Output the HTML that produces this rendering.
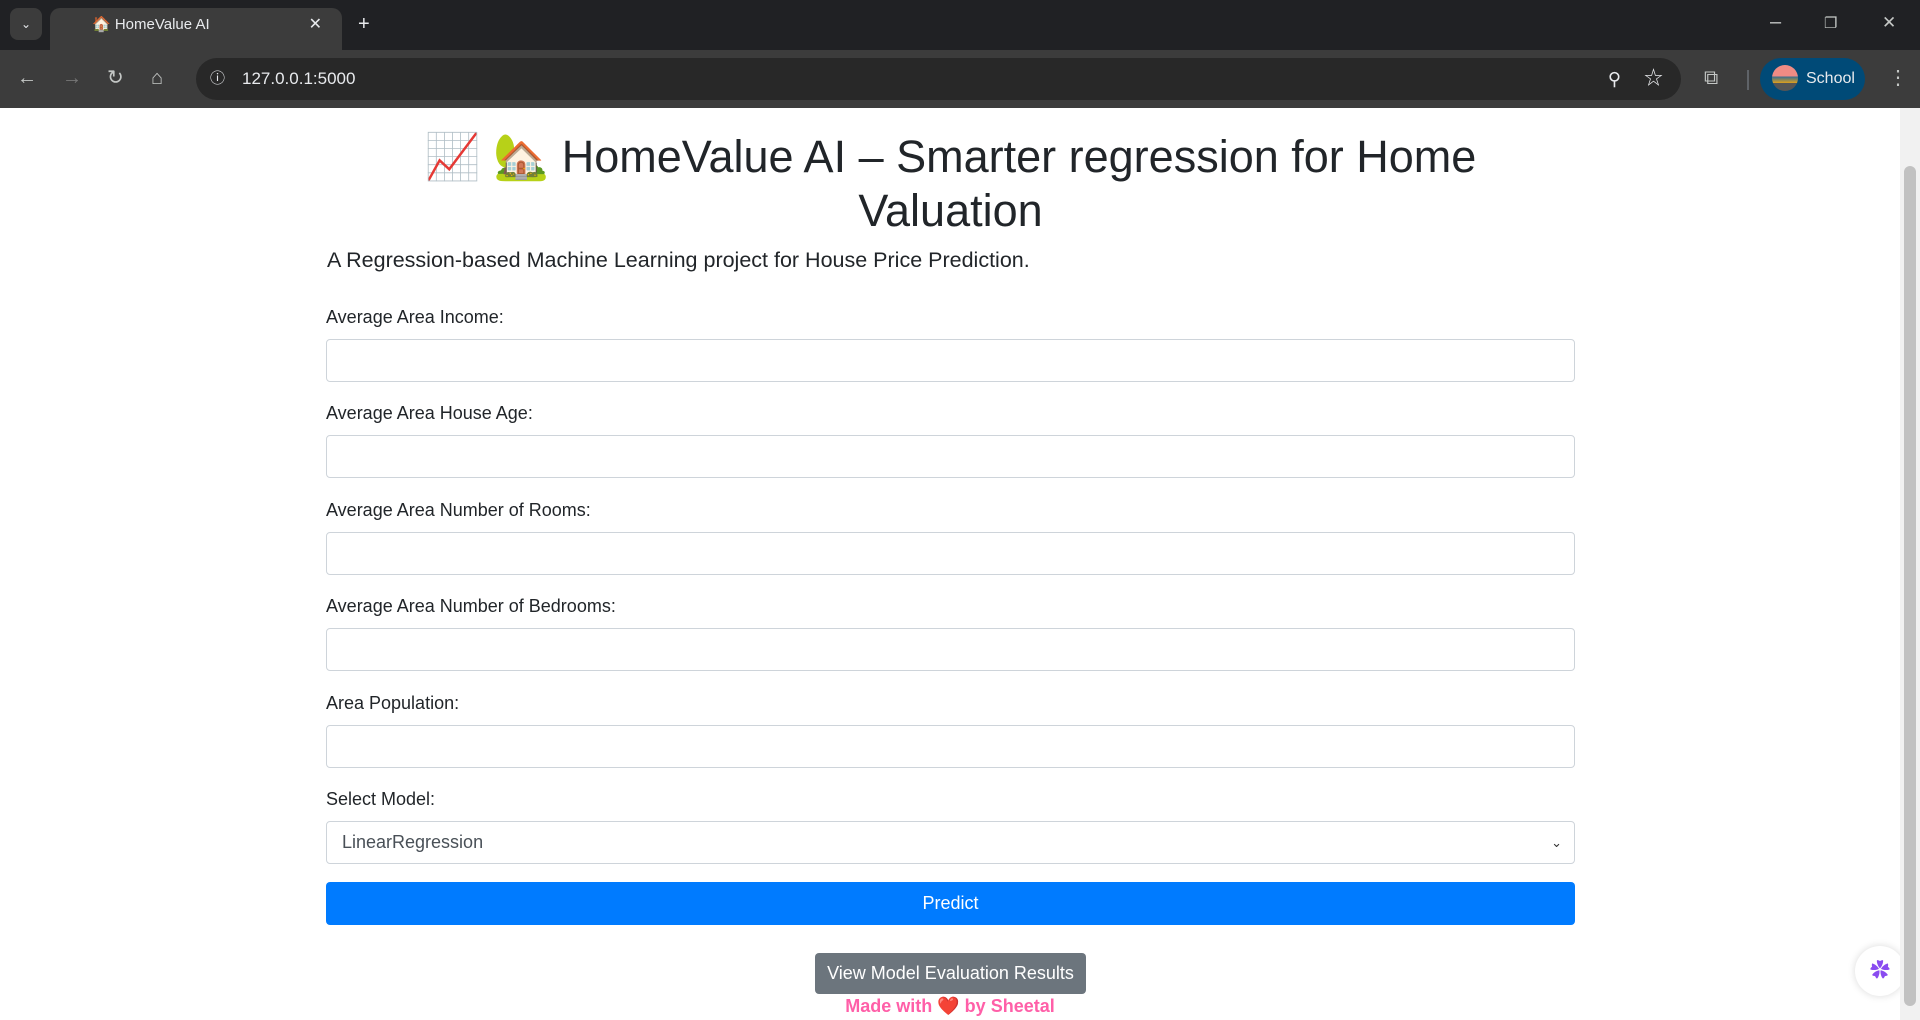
<!DOCTYPE html>
<html><head><meta charset="utf-8">
<style>
*{box-sizing:border-box;margin:0;padding:0}
body{width:1920px;height:1020px;overflow:hidden;background:#fff;font-family:"Liberation Sans","Noto Sans CJK SC",sans-serif;position:relative}
.abs{position:absolute}
#tabbar{left:0;top:0;width:1920px;height:50px;background:#202124}
#tab{left:50px;top:8px;width:292px;height:42px;background:#3c3c3c;border-radius:10px 10px 0 0;color:#e8eaed;font-size:15px;line-height:34px;padding-left:42px}
#toolbar{left:0;top:50px;width:1920px;height:58px;background:#3c3c3c}
#omni{left:196px;top:58px;width:1485px;height:42px;background:#282828;border-radius:21px;color:#e8eaed;font-size:17px;line-height:42px;padding-left:46px}
#school{left:1760px;top:58px;width:105px;height:42px;background:#004a77;border-radius:21px;color:#e8eaed;font-size:16px;line-height:42px;padding-left:46px}
.ic{color:#c4c7c5;font-size:20px;line-height:20px}
#page{left:0;top:108px;width:1900px;height:912px}
#scroll{left:1900px;top:108px;width:20px;height:912px;background:#f1f1f1}
h1{position:absolute;left:326px;width:1249px;top:22px;text-align:center;font-size:45px;line-height:54px;font-weight:500;color:#212529}
.lead{left:327px;top:140px;font-size:21.5px;font-weight:300;color:#212529}
.lbl{left:326px;font-size:18px;color:#212529}
.inp{left:326px;width:1249px;height:43px;border:1px solid #ced4da;border-radius:4px;background:#fff}
</style></head><body>
<div class="abs" id="tabbar"></div>
<div class="abs" style="left:10px;top:8px;width:32px;height:32px;background:#3c3c3c;border-radius:8px;color:#e8eaed;text-align:center;line-height:32px;font-size:12px">⌄</div>
<div class="abs" id="tab">🏠 HomeValue AI<span style="position:absolute;right:20px;font-size:16px">✕</span></div>
<div class="abs ic" style="left:358px;top:14px;color:#e8eaed">+</div>
<div class="abs ic" style="left:1770px;top:12px">–</div>
<div class="abs ic" style="left:1824px;top:14px;font-size:15px">❐</div>
<div class="abs ic" style="left:1882px;top:13px;font-size:17px">✕</div>
<div class="abs" id="toolbar"></div>
<div class="abs ic" style="left:17px;top:68px">←</div>
<div class="abs ic" style="left:62px;top:68px;color:#777">→</div>
<div class="abs ic" style="left:107px;top:68px">↻</div>
<div class="abs ic" style="left:151px;top:68px">⌂</div>
<div class="abs" id="omni"><span style="position:absolute;left:14px;font-size:15px">ⓘ</span>127.0.0.1:5000<span style="position:absolute;right:60px;font-size:18px">⚲</span><span style="position:absolute;right:18px;font-size:19px">☆</span></div>
<div class="abs ic" style="left:1704px;top:68px">⧉</div>
<div class="abs" style="left:1747px;top:70px;width:2px;height:20px;background:#5f6368"></div>
<div class="abs" id="school"><span style="position:absolute;left:12px;top:7px;width:26px;height:26px;border-radius:13px;background:linear-gradient(#f08b84 45%,#3a6e8f 45%,#e3a21a 70%,#555 70%)"></span>School</div>
<div class="abs ic" style="left:1888px;top:68px">⋮</div>

<div class="abs" id="page">
<h1>📈 🏡 HomeValue AI – Smarter regression for Home<br>Valuation</h1>
<div class="abs lead">A Regression-based Machine Learning project for House Price Prediction.</div>

<div class="abs lbl" style="top:199px">Average Area Income:</div>
<div class="abs inp" style="top:231px"></div>
<div class="abs lbl" style="top:295px">Average Area House Age:</div>
<div class="abs inp" style="top:327px"></div>
<div class="abs lbl" style="top:392px">Average Area Number of Rooms:</div>
<div class="abs inp" style="top:424px"></div>
<div class="abs lbl" style="top:488px">Average Area Number of Bedrooms:</div>
<div class="abs inp" style="top:520px"></div>
<div class="abs lbl" style="top:585px">Area Population:</div>
<div class="abs inp" style="top:617px"></div>
<div class="abs lbl" style="top:681px">Select Model:</div>
<div class="abs inp" style="top:713px;font-size:18px;color:#495057;line-height:41px;padding-left:15px">LinearRegression<span style="position:absolute;right:12px;font-size:13px;color:#333">⌄</span></div>

<div class="abs" style="left:326px;top:774px;width:1249px;height:43px;background:#007bff;border-radius:4px;color:#fff;font-size:18px;text-align:center;line-height:43px">Predict</div>
<div class="abs" style="left:815px;top:845px;width:271px;height:41px;background:#6c757d;border-radius:4px;color:#fff;font-size:18px;text-align:center;line-height:41px">View Model Evaluation Results</div>
<div class="abs" style="left:600px;width:700px;top:888px;text-align:center;font-size:18px;font-weight:bold;color:#ff5fa8">Made with ❤️ by Sheetal</div>
<div class="abs" style="left:1855px;top:838px;width:50px;height:50px;border-radius:25px;background:#fff;box-shadow:0 0 8px rgba(0,0,0,.15);text-align:center;line-height:50px;font-size:20px;color:#8a4cf0">✿</div>
</div>
<div class="abs" id="scroll"><div style="position:absolute;left:4px;top:58px;width:12px;height:840px;background:#c1c1c1;border-radius:6px"></div></div>
</body></html>
